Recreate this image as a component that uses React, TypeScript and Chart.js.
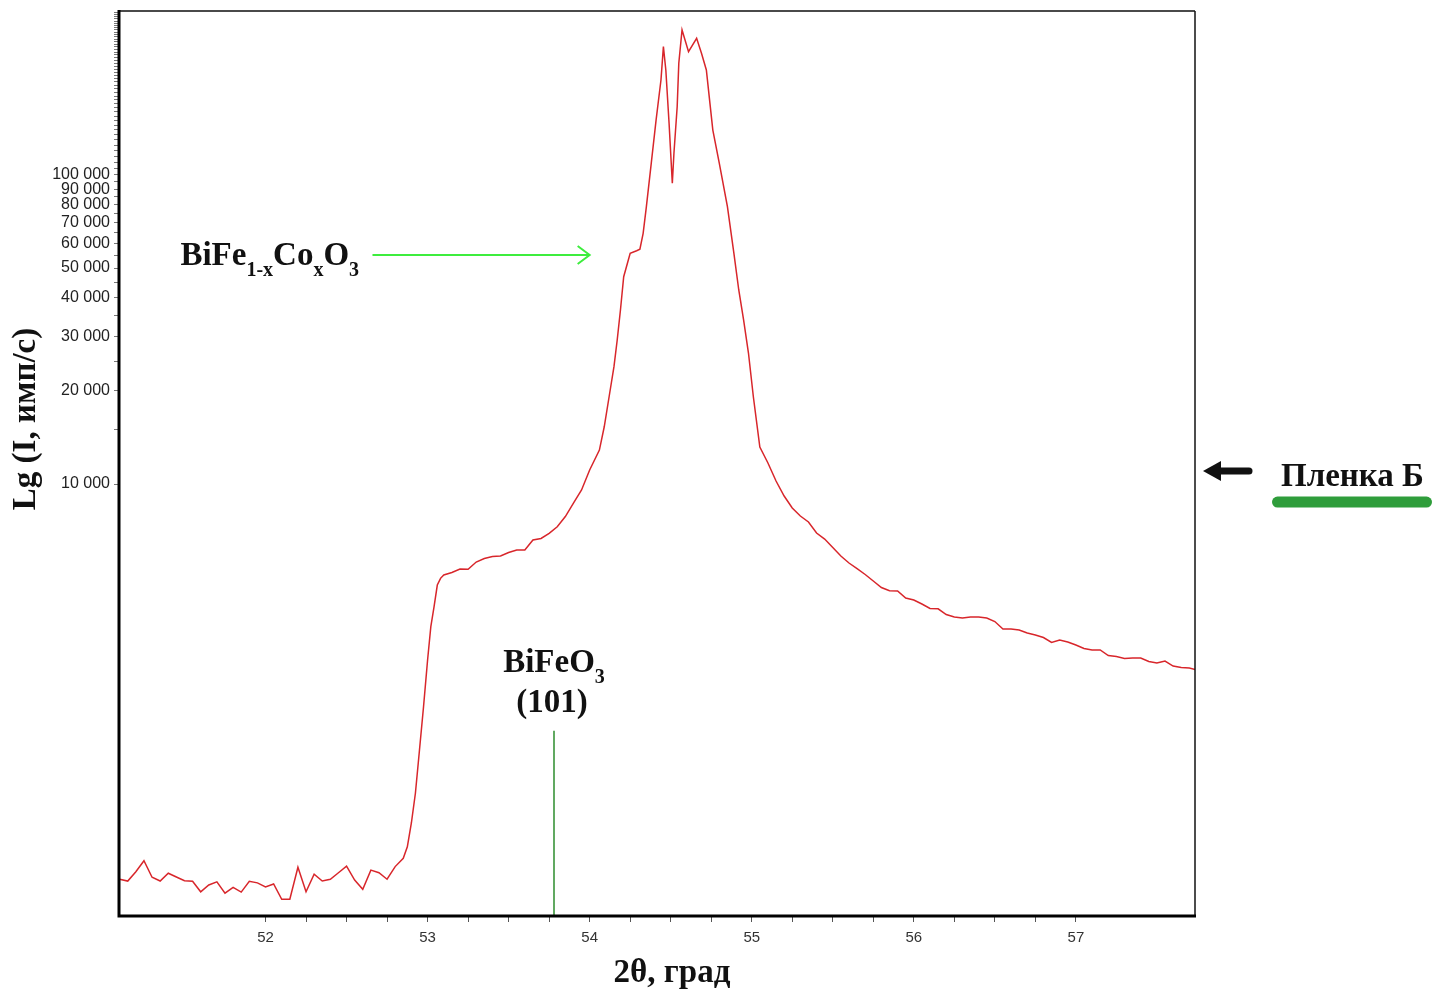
import React, { useEffect, useRef } from 'react';
import { Chart, registerables } from 'chart.js';

Chart.register(...registerables);

const twoTheta = [
  51.10, 51.15, 51.20, 51.25, 51.30, 51.35, 51.40, 51.45, 51.50, 51.55,
  51.60, 51.65, 51.70, 51.75, 51.80, 51.85, 51.90, 51.95, 52.00, 52.05,
  52.10, 52.15, 52.20, 52.25, 52.30, 52.35, 52.40, 52.45, 52.50, 52.55,
  52.60, 52.65, 52.70, 52.75, 52.80, 52.85, 52.875, 52.90, 52.925, 52.95,
  52.975, 53.00, 53.02, 53.04, 53.06, 53.08, 53.10, 53.15, 53.20, 53.25,
  53.30, 53.35, 53.40, 53.45, 53.50, 53.55, 53.60, 53.65, 53.70, 53.75,
  53.80, 53.85, 53.90, 53.95, 54.00, 54.06, 54.09, 54.12, 54.15, 54.17,
  54.19, 54.21, 54.25, 54.29, 54.31, 54.33, 54.35, 54.38, 54.41, 54.44,
  54.455, 54.47, 54.49, 54.51, 54.52, 54.54, 54.55, 54.57, 54.61, 54.66,
  54.69, 54.72, 54.74, 54.76, 54.80, 54.85, 54.89, 54.92, 54.95, 54.98,
  55.01, 55.05, 55.10, 55.15, 55.20, 55.25, 55.30, 55.35, 55.40, 55.45,
  55.50, 55.55, 55.60, 55.65, 55.70, 55.75, 55.80, 55.85, 55.90, 55.95,
  56.00, 56.05, 56.10, 56.15, 56.20, 56.25, 56.30, 56.35, 56.40, 56.45,
  56.50, 56.55, 56.60, 56.65, 56.70, 56.75, 56.80, 56.85, 56.90, 56.95,
  57.00, 57.05, 57.10, 57.15, 57.20, 57.25, 57.30, 57.35, 57.40, 57.45,
  57.50, 57.55, 57.60, 57.65, 57.70, 57.75,
];

const intensity = [
  526, 519, 556, 604, 534, 519, 550, 535, 520, 518,
  479, 504, 516, 474, 495, 478, 518, 512, 497, 508,
  453, 453, 575, 479, 546, 519, 526, 552, 580, 523,
  488, 563, 552, 526, 578, 615, 670, 800, 1000, 1378,
  1902, 2694, 3453, 4009, 4711, 4952, 5076, 5171, 5308, 5300,
  5592, 5740, 5827, 5848, 6002, 6115, 6120, 6589, 6663, 6926,
  7275, 7849, 8680, 9563, 11100, 12880, 15320, 19160, 23970, 29240,
  36570, 46870, 55800, 56890, 57500, 64760, 78970, 109100, 150700, 203000,
  260200, 218700, 147000, 94000, 117600, 166300, 229900, 294700, 250600, 276900,
  247700, 218700, 174800, 139800, 109100, 78970, 55800, 42450, 33940, 26490,
  19160, 13175, 11695, 10226, 9145, 8363, 7878, 7534, 6940, 6637,
  6230, 5848, 5550, 5320, 5095, 4855, 4624, 4515, 4510, 4276,
  4213, 4090, 3955, 3945, 3782, 3712, 3684, 3712, 3712, 3684,
  3589, 3394, 3394, 3369, 3294, 3246, 3186, 3073, 3127, 3081,
  3013, 2935, 2903, 2903, 2786, 2765, 2727, 2735, 2735, 2664,
  2634, 2674, 2576, 2547, 2538, 2501,
];

// BiFeO3 (101) reference line
const refTheta = [53.78, 53.78];
const refIntensity = [400, 1590];

// axis ticks
const xLabelTicks = [52, 53, 54, 55, 56, 57];
const yLabelTicks = [10000, 20000, 30000, 40000, 50000, 60000, 70000, 80000, 90000, 100000];

const X_MIN = 51.096;
const X_MAX = 57.735;
const Y_MIN = 400;
const Y_MAX = 339400;

const SERIF = '"Liberation Serif", "Times New Roman", serif';
const SANS = '"Liberation Sans", Arial, sans-serif';

type Part = { text: string; sub?: boolean };

function drawRich(ctx: CanvasRenderingContext2D, parts: Part[], x: number, y: number, align: 'left' | 'center') {
  const mainFont = `bold 33px ${SERIF}`;
  const subFont = `bold 20px ${SERIF}`;
  const widths = parts.map((p) => {
    ctx.font = p.sub ? subFont : mainFont;
    return ctx.measureText(p.text).width;
  });
  const total = widths.reduce((a, b) => a + b, 0);
  let cx = align === 'center' ? x - total / 2 : x;
  ctx.textAlign = 'left';
  ctx.textBaseline = 'alphabetic';
  parts.forEach((p, i) => {
    ctx.font = p.sub ? subFont : mainFont;
    ctx.fillText(p.text, cx, p.sub ? y + 11 : y);
    cx += widths[i];
  });
}

const annotationPlugin = {
  id: 'xrdAnnotations',
  afterDraw(chart: any) {
    const { ctx, chartArea: a, scales } = chart;
    const xs = scales.x;
    const ys = scales.y;
    ctx.save();

    // frame
    ctx.strokeStyle = '#4a4a4a';
    ctx.lineWidth = 2;
    ctx.beginPath();
    ctx.moveTo(a.left, a.top);
    ctx.lineTo(a.right, a.top);
    ctx.stroke();
    ctx.strokeStyle = '#111';
    ctx.lineWidth = 1.5;
    ctx.beginPath();
    ctx.moveTo(a.right, a.top);
    ctx.lineTo(a.right, a.bottom);
    ctx.stroke();
    ctx.strokeStyle = '#000';
    ctx.lineWidth = 3;
    ctx.beginPath();
    ctx.moveTo(a.left, a.top - 1);
    ctx.lineTo(a.left, a.bottom);
    ctx.lineTo(a.right + 1, a.bottom);
    ctx.stroke();

    ctx.fillStyle = '#111';

    // BiFe1-xCoxO3 label + green arrow
    const fx = xs.getPixelForValue(51.475);
    const fy = ys.getPixelForValue(51150);
    drawRich(ctx, [
      { text: 'BiFe' }, { text: '1-x', sub: true }, { text: 'Co' }, { text: 'x', sub: true }, { text: 'O' }, { text: '3', sub: true },
    ], fx, fy, 'left');

    const ax1 = xs.getPixelForValue(52.66);
    const ax2 = xs.getPixelForValue(54.0);
    const ay = ys.getPixelForValue(55100);
    ctx.strokeStyle = '#3ded3d';
    ctx.lineWidth = 2;
    ctx.beginPath();
    ctx.moveTo(ax1, ay);
    ctx.lineTo(ax2, ay);
    ctx.moveTo(ax2 - 12, ay - 9);
    ctx.lineTo(ax2, ay);
    ctx.lineTo(ax2 - 12, ay + 9);
    ctx.stroke();

    // BiFeO3 (101) label
    const bx = xs.getPixelForValue(refTheta[0]);
    drawRich(ctx, [{ text: 'BiFeO' }, { text: '3', sub: true }], bx, ys.getPixelForValue(2464), 'center');
    ctx.font = `bold 33px ${SERIF}`;
    ctx.textAlign = 'center';
    ctx.fillText('(101)', bx - 2, ys.getPixelForValue(1829));

    // axis titles
    ctx.font = `bold 33px ${SERIF}`;
    ctx.textAlign = 'center';
    ctx.textBaseline = 'alphabetic';
    ctx.fillText('2θ, град', (a.left + a.right) / 2 + 15, a.bottom + 66);
    ctx.save();
    ctx.translate(a.left - 84, a.top + 408);
    ctx.rotate(-Math.PI / 2);
    ctx.fillText('Lg (I, имп/с)', 0, 0);
    ctx.restore();

    // sample label on the right
    const rx = a.right;
    const ry = ys.getPixelForValue(11016);
    ctx.fillStyle = '#111';
    ctx.beginPath();
    ctx.moveTo(rx + 8, ry);
    ctx.lineTo(rx + 26, ry - 10);
    ctx.lineTo(rx + 26, ry + 10);
    ctx.closePath();
    ctx.fill();
    ctx.lineCap = 'round';
    ctx.strokeStyle = '#111';
    ctx.lineWidth = 7;
    ctx.beginPath();
    ctx.moveTo(rx + 22, ry);
    ctx.lineTo(rx + 54, ry);
    ctx.stroke();

    ctx.font = `bold 33px ${SERIF}`;
    ctx.textAlign = 'left';
    ctx.fillText('Пленка Б', rx + 86, ys.getPixelForValue(9852));

    ctx.fillStyle = '#2f9d3b';
    const barY = ys.getPixelForValue(8743);
    ctx.beginPath();
    ctx.roundRect(rx + 77, barY - 5.5, 160, 11, 5.5);
    ctx.fill();

    ctx.restore();
  },
};

function formatThousands(v: number): string {
  return `${Math.round(v / 1000)} 000`;
}

export default function App() {
  const canvasRef = useRef<HTMLCanvasElement | null>(null);

  useEffect(() => {
    const canvas = canvasRef.current;
    if (!canvas) return;

    const xTicks: number[] = [];
    for (let v = 52; v <= 57; v += 0.25) xTicks.push(v);
    const yTicks: number[] = [];
    for (let v = 10000; v <= Y_MAX; v += 5000) yTicks.push(v);

    const chart = new Chart(canvas, {
      type: 'line',
      data: {
        datasets: [
          {
            data: twoTheta.map((t, i) => ({ x: t, y: intensity[i] })),
            borderColor: '#d8262b',
            borderWidth: 1.5,
            pointRadius: 0,
            tension: 0,
          },
          {
            data: refTheta.map((t, i) => ({ x: t, y: refIntensity[i] })),
            borderColor: '#2c8c2c',
            borderWidth: 1.5,
            pointRadius: 0,
            tension: 0,
          },
        ],
      },
      options: {
        responsive: false,
        animation: false,
        events: [],
        layout: { padding: { left: 0, top: 11, right: 238, bottom: 0 } },
        plugins: { legend: { display: false }, tooltip: { enabled: false } },
        scales: {
          x: {
            type: 'linear',
            min: X_MIN,
            max: X_MAX,
            afterBuildTicks: (s: any) => {
              s.ticks = xTicks.map((v) => ({ value: v }));
            },
            afterFit: (s: any) => {
              s.height = 78;
              s.paddingLeft = 0;
              s.paddingRight = 0;
            },
            ticks: {
              autoSkip: false,
              maxRotation: 0,
              padding: 7,
              color: '#333',
              font: { family: SANS, size: 15 },
              callback: (v: any) => (xLabelTicks.includes(Number(v)) ? String(v) : ''),
            },
            grid: { drawOnChartArea: false, tickLength: 6, tickColor: '#555', tickWidth: 1 },
            border: { display: false },
          },
          y: {
            type: 'logarithmic',
            min: Y_MIN,
            max: Y_MAX,
            afterBuildTicks: (s: any) => {
              s.ticks = yTicks.map((v) => ({ value: v }));
            },
            afterFit: (s: any) => {
              s.width = 119;
              s.paddingTop = 0;
              s.paddingBottom = 0;
            },
            ticks: {
              autoSkip: false,
              padding: 4,
              color: '#222',
              font: { family: SANS, size: 16 },
              callback: (v: any) => (yLabelTicks.includes(Number(v)) ? formatThousands(Number(v)) : ''),
            },
            grid: { drawOnChartArea: false, tickLength: 5, tickColor: '#777', tickWidth: 1 },
            border: { display: false },
          },
        },
      },
      plugins: [annotationPlugin],
    } as any);

    return () => chart.destroy();
  }, []);

  return (
    <div style={{ position: 'absolute', left: 0, top: 0, width: 1433, height: 994, background: '#fff' }}>
      <canvas ref={canvasRef} width={1433} height={994} style={{ display: 'block' }} />
    </div>
  );
}
